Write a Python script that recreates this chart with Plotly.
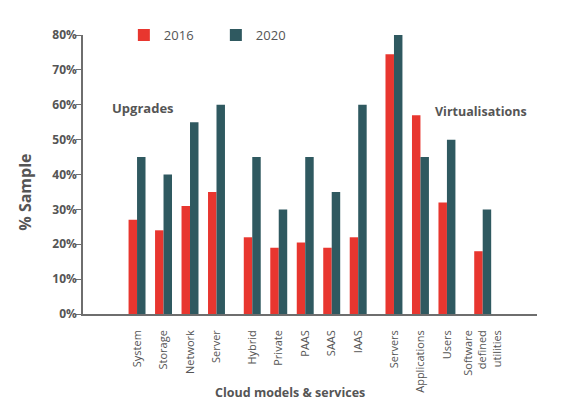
import plotly.graph_objects as go

# categories, grouped as in the chart
groups = [
    ["System", "Storage", "Network", "Server"],
    ["Hybrid", "Private", "PAAS", "SAAS", "IAAS"],
    ["Servers", "Applications", "Users"],
    ["Software<br>defined<br>utilities"],
]
values_2016 = [27, 24, 31, 35, 22, 19, 20.5, 19, 22, 74.5, 57, 32, 18]
values_2020 = [45, 40, 55, 60, 45, 30, 45, 35, 60, 80, 45, 50, 30]
y_ticks = [0, 10, 20, 30, 40, 50, 60, 70, 80]

# x positions: one unit per category, a bit of extra space between groups
labels = []
xpos = []
i = 0
for g, group in enumerate(groups):
    for name in group:
        labels.append(name)
        xpos.append(i + 0.35 * g)
        i += 1

RED = "#e8362f"
TEAL = "#2f5960"
GREY = "#555555"
FONT = "Open Sans"

fig = go.Figure()
fig.add_trace(go.Bar(name="2016", x=xpos, y=values_2016, marker_color=RED, marker_line_width=0))
fig.add_trace(go.Bar(name="2020", x=xpos, y=values_2020, marker_color=TEAL, marker_line_width=0))

fig.update_layout(
    width=571,
    height=410,
    barmode="group",
    bargap=0.36,
    bargroupgap=0,
    plot_bgcolor="white",
    paper_bgcolor="white",
    font=dict(family=FONT, size=12, color=GREY),
    margin=dict(l=75, r=42, t=25, b=104),
    showlegend=True,
    legend=dict(
        orientation="h",
        x=0.09,
        y=1.0,
        xanchor="left",
        yanchor="middle",
        font=dict(size=13, color=GREY),
        itemwidth=30,
        entrywidth=47,
        bgcolor="rgba(0,0,0,0)",
    ),
    annotations=[
        dict(text="<b>Upgrades</b>", x=0.23, y=59.2, xref="x", yref="y",
             xanchor="center", yanchor="middle",
             showarrow=False, font=dict(family=FONT, size=13, color=GREY)),
        dict(text="<b>Virtualisations</b>", x=12.98, y=58.1, xref="x", yref="y",
             xanchor="center", yanchor="middle",
             showarrow=False, font=dict(family=FONT, size=12.5, color=GREY)),
        # axis titles placed as in the original (not centred on the plot)
        dict(text="<b>Cloud models & services</b>", x=0.456, y=-0.281, xref="paper", yref="paper",
             xanchor="center", yanchor="middle",
             showarrow=False, font=dict(family=FONT, size=12.5, color=GREY)),
        dict(text="<b>% Sample</b>", x=-0.128, y=0.438, xref="paper", yref="paper",
             xanchor="center", yanchor="middle", textangle=-90,
             showarrow=False, font=dict(family=FONT, size=16, color=GREY)),
    ],
)

fig.update_xaxes(
    range=[-2.04, 15.1],
    tickmode="array",
    tickvals=xpos,
    ticktext=labels,
    tickangle=-90,
    tickfont=dict(family=FONT, size=11, color=GREY),
    ticklabelstandoff=10,
    showline=True,
    linecolor="#6e6e6e",
    linewidth=1.5,
    showgrid=False,
    zeroline=False,
    ticks="",
)
fig.update_yaxes(
    range=[0, 80],
    tickmode="array",
    tickvals=y_ticks,
    ticktext=["<b>%d%%</b>" % v for v in y_ticks],
    tickfont=dict(family=FONT, size=12, color=GREY),
    ticklabelstandoff=-3,
    showline=True,
    linecolor="#6e6e6e",
    linewidth=1.5,
    ticks="outside",
    ticklen=5,
    tickcolor="#6e6e6e",
    showgrid=False,
    zeroline=False,
)

fig.write_html("out.html")
